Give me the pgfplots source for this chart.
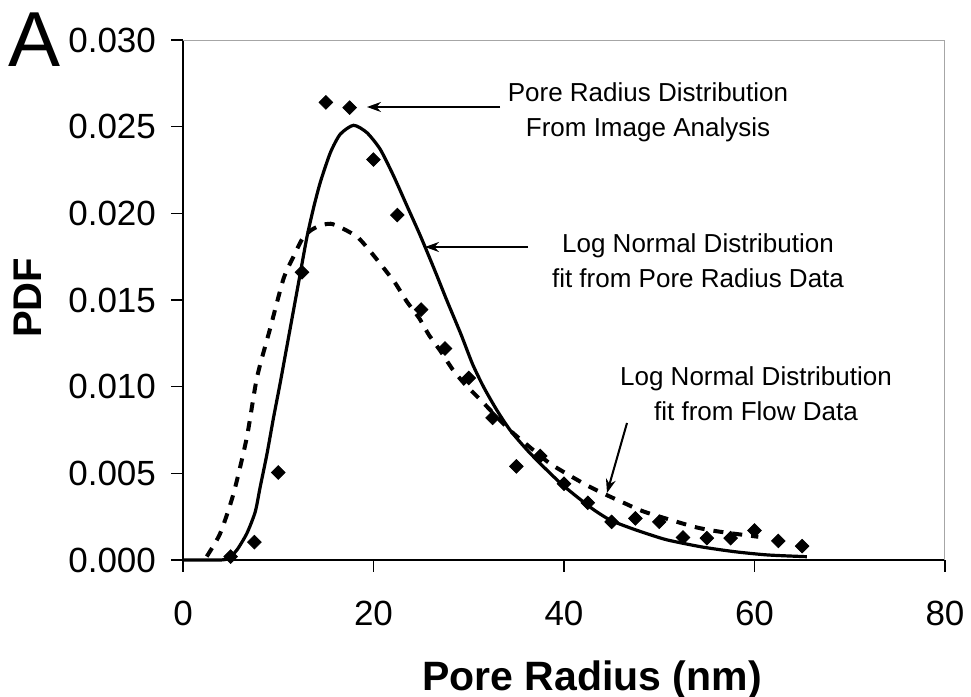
\documentclass[border=0pt]{standalone}
\usepackage{pgfplots}
\pgfplotsset{compat=1.18}
\usepackage{fontspec}
\setmainfont{Liberation Sans}
\usetikzlibrary{arrows.meta}

\pgfplotstableread{
x y
5 0.0002
7.5 0.00103
10 0.00505
12.5 0.0166
15 0.0264
17.5 0.0261
20 0.0231
22.5 0.0199
25 0.01445
27.5 0.0122
30 0.0105
32.5 0.0082
35 0.0054
37.5 0.0060
40 0.0044
42.5 0.0033
45 0.0022
47.5 0.0024
50 0.0022
52.5 0.0013
55 0.00126
57.5 0.00126
60 0.0017
62.5 0.0011
65 0.0008
}\poredata

\pgfplotstableread{
x y
0 0
3.9 0
4.77 0.0001
5.65 0.00057
6.7 0.00153
7.58 0.00277
8.1 0.0042
8.81 0.0061
9.5 0.0082
10.2 0.0102
10.9 0.0123
11.6 0.0144
12.3 0.0165
13.0 0.0186
13.7 0.0203
14.42 0.0218
15.47 0.0235
16.5 0.02456
17.9 0.02508
19.3 0.02466
20.7 0.0237
22.1 0.02217
23.5 0.02045
24.9 0.01873
26.35 0.01682
27.75 0.01491
29.2 0.0130
30.4 0.0113
31.6 0.00994
33.0 0.0086
34.4 0.00745
36.2 0.0063
37.9 0.00535
39.7 0.0044
41.4 0.00363
43.2 0.00287
44.9 0.00229
47.1 0.00182
49.2 0.00143
50.9 0.00115
54.4 0.00076
57.9 0.00048
61.4 0.00029
65.5 0.00019
}\fitpore

\pgfplotstableread{
x y
2.49 0.0002
3.9 0.00153
5.3 0.00382
6.7 0.00707
7.76 0.01051
9.16 0.01338
10.56 0.01624
11.6 0.0175
12.5 0.0185
13.37 0.0190
14.4 0.0193
15.5 0.0194
16.5 0.0192
18.3 0.01864
19.7 0.01778
21.1 0.01682
22.3 0.01596
23.5 0.01491
24.8 0.01395
25.8 0.0130
27.05 0.01204
28.3 0.0110
29.5 0.0102
31.3 0.0092
34.2 0.00755
36.0 0.0067
38.6 0.00554
42.1 0.0044
44.2 0.00382
46.3 0.00329
48.5 0.00277
53.7 0.00191
56.5 0.00162
60.4 0.00134
}\fitflow

\begin{document}
\begin{tikzpicture}[x=1pt,y=1pt]
\useasboundingbox (0,0) rectangle (485.5,348.5);
\begin{axis}[
  at={(91.5pt,68.5pt)}, anchor=south west,
  scale only axis, width=381pt, height=260pt,
  xmin=0, xmax=80, ymin=0, ymax=0.030,
  axis x line*=bottom, axis y line*=left,
  axis line style={black, line width=0.6pt},
  xtick={0,20,40,60,80},
  ytick={0,0.005,0.01,0.015,0.02,0.025,0.03},
  scaled y ticks=false,
  yticklabel style={xshift=-4pt, /pgf/number format/fixed, /pgf/number format/fixed zerofill, /pgf/number format/precision=3},
  /pgf/number format/assume math mode=true,
  tick label style={font=\fontsize{17.5}{20}\selectfont, black},
  xticklabel style={yshift=-11pt},
  tick align=outside, major tick length=6pt,
  tick style={black, line width=0.6pt},
  clip=false,
]
\draw[gray!70, line width=0.5pt] (rel axis cs:0,1) -- (rel axis cs:1,1) -- (rel axis cs:1,0);
\addplot[black, line width=2pt, dash pattern=on 5pt off 4.5pt, smooth, tension=0.4] table {\fitflow};
\addplot[black, line width=1.6pt, smooth, tension=0.4] table {\fitpore};
\addplot[only marks, mark=square*, mark size=2.4pt, mark options={rotate=45, fill=black, draw=black}] table {\poredata};
\end{axis}
% axis titles
\node[font=\fontsize{39}{40}\selectfont] at (17.5,328.5) {A};
\node[font=\fontsize{20}{22}\selectfont\bfseries, rotate=90] at (14,199.5) {PDF};
\node[font=\fontsize{20.5}{22}\selectfont\bfseries] at (296,8.5) {Pore Radius (nm)};
% annotations
\node[font=\fontsize{13}{17.5}\selectfont, align=center] at (324,292.5) {Pore Radius Distribution\\From Image Analysis};
\draw[line width=1pt, -{Stealth[length=7pt,width=5pt]}] (250,295) -- (183.5,295);
\node[font=\fontsize{13}{17.5}\selectfont, align=center] at (349,218) {Log Normal Distribution\\fit from Pore Radius Data};
\draw[line width=1pt, -{Stealth[length=7pt,width=5pt]}] (264,225) -- (212.5,225);
\node[font=\fontsize{13}{17.5}\selectfont, align=center] at (378,151.5) {Log Normal Distribution\\fit from Flow Data};
\draw[line width=1pt, -{Stealth[length=7pt,width=5pt]}] (313.5,137) -- (303.5,102);
\end{tikzpicture}
\end{document}
